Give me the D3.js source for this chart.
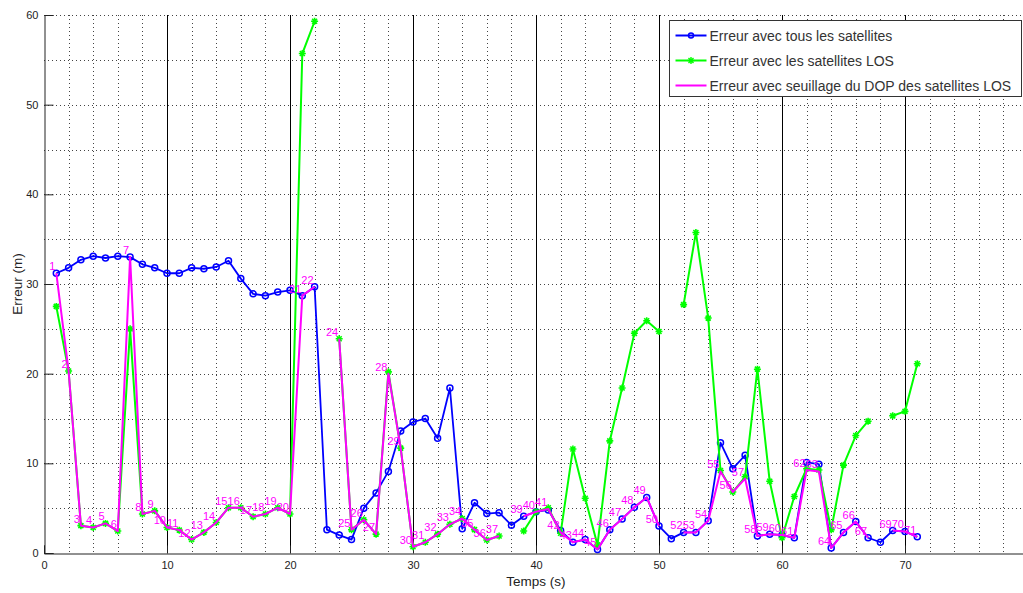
<!DOCTYPE html>
<html>
<head>
<meta charset="utf-8">
<script src="https://cdn.jsdelivr.net/npm/d3@7"></script>
<style>
  body { margin: 0; background: #fff; }
  svg { display: block; font-family: "Liberation Sans", Arial, sans-serif; }
</style>
</head>
<body>
<svg id="chart" width="1023" height="593"></svg>
<script>
// temps (s)
const temps = [1,2,3,4,5,6,7,8,9,10,11,12,13,14,15,16,17,18,19,20,
  21,22,23,24,25,26,27,28,29,30,31,32,33,34,35,36,37,38,39,40,
  41,42,43,44,45,46,47,48,49,50,51,52,53,54,55,56,57,58,59,60,
  61,62,63,64,65,66,67,68,69,70,71];

// erreur avec tous les satellites
const errTous = [31.2,31.8,32.7,33.1,32.9,33.1,33.0,32.2,31.8,31.2,
  31.2,31.8,31.7,31.9,32.6,30.6,28.9,28.7,29.1,29.3,
  28.7,29.7,2.6,2.0,1.5,5.0,6.7,9.1,13.6,14.6,
  15.0,12.8,18.4,2.7,5.6,4.4,4.5,3.1,4.1,4.6,
  4.8,2.5,1.2,1.5,0.4,2.6,3.8,5.1,6.2,3.0,
  1.6,2.3,2.3,3.6,12.3,9.4,10.9,1.9,2.1,2.0,
  1.7,10.1,9.9,0.55,2.3,3.5,1.7,1.2,2.5,2.4,1.8];

// erreur avec les satellites LOS (null = pas de solution)
const errLOS = [27.5,20.3,3.05,2.85,3.3,2.45,25.0,4.35,4.7,2.85,
  2.55,1.5,2.3,3.4,5.05,5.05,4.05,4.35,5.05,4.35,
  55.7,59.3,null,23.9,2.6,3.7,2.1,20.2,11.7,0.7,
  1.2,2.1,3.2,3.85,2.6,1.45,1.9,null,2.45,4.6,
  5.05,2.2,11.6,6.1,0.9,12.5,18.4,24.5,25.9,24.7,
  null,27.7,35.75,26.2,9.2,6.8,8.5,20.5,8.0,1.7,
  6.3,9.4,9.25,2.6,9.8,13.1,14.7,null,15.3,15.8,21.1];

// erreur avec seuillage du DOP des satellites LOS
const errDOP = [31.2,20.3,3.05,2.85,3.3,2.45,33.0,4.35,4.7,2.85,
  2.55,1.5,2.3,3.4,5.05,5.05,4.05,4.35,5.05,4.35,
  28.7,29.7,null,23.9,2.6,3.7,2.1,20.0,11.7,0.7,
  1.2,2.1,3.2,3.85,2.6,1.45,1.9,null,4.1,4.6,
  4.9,2.3,1.2,1.5,0.4,2.6,3.8,5.1,6.2,3.0,
  null,2.3,2.3,3.6,9.1,6.8,8.3,1.9,2.1,2.0,
  1.7,9.25,9.1,0.55,2.3,3.5,1.7,null,2.5,2.4,1.8];

const xTicks = [0,10,20,30,40,50,60,70];
const yTicks = [0,10,20,30,40,50,60];
const legendLabels = [
  "Erreur avec tous les satellites",
  "Erreur avec les satellites LOS",
  "Erreur avec seuillage du DOP des satellites LOS"
];

const svg = d3.select("#chart");
const pl = 44, pr = 1028, pt = 15, pb = 553;

const x = d3.scaleLinear().domain([0, 80]).range([pl, pr]);
const y = d3.scaleLinear().domain([0, 60]).range([pb, pt]);

svg.append("rect").attr("width", 1023).attr("height", 593).attr("fill", "#fff");

// grille mineure pointillée
const grid = svg.append("g");
grid.selectAll("line.gx")
  .data(x.ticks(40).filter(d => d > 0))
  .join("line")
    .attr("x1", d => Math.round(x(d)) + 0.5).attr("x2", d => Math.round(x(d)) + 0.5)
    .attr("y1", pt).attr("y2", pb)
    .attr("stroke", "#444").attr("stroke-width", 1).attr("stroke-dasharray", "1,3");
grid.selectAll("line.gy")
  .data(y.ticks(12).filter(d => d > 0))
  .join("line")
    .attr("y1", d => Math.round(y(d)) + 0.5).attr("y2", d => Math.round(y(d)) + 0.5)
    .attr("x1", pl).attr("x2", pr)
    .attr("stroke", "#444").attr("stroke-width", 1).attr("stroke-dasharray", "1,3");

// lignes verticales toutes les 10 s
svg.append("g").selectAll("line")
  .data(xTicks.filter(d => d > 0))
  .join("line")
    .attr("x1", d => Math.round(x(d)) + 0.5).attr("x2", d => Math.round(x(d)) + 0.5)
    .attr("y1", pt).attr("y2", pb)
    .attr("stroke", "#000").attr("stroke-width", 1);

// axes
const xAxis = svg.append("g")
  .attr("transform", `translate(0,${pb + 0.5})`)
  .call(d3.axisBottom(x).tickValues(xTicks).tickSize(-8).tickPadding(8));
const yAxis = svg.append("g")
  .attr("transform", `translate(${pl + 0.5},0)`)
  .call(d3.axisLeft(y).tickValues(yTicks).tickSize(-9).tickPadding(6));
[xAxis, yAxis].forEach(a => {
  a.select(".domain").attr("stroke", "#222");
  a.selectAll(".tick line").attr("stroke", "#222");
  a.selectAll(".tick text").attr("fill", "#222").style("font-size", "11px")
    .style("font-family", "'Liberation Sans', Arial, sans-serif");
});

svg.append("text")
  .attr("x", (pl + pr) / 2).attr("y", 586)
  .attr("text-anchor", "middle").attr("fill", "#222")
  .style("font-size", "13.5px").text("Temps (s)");
svg.append("text")
  .attr("transform", `translate(22,${(pt + pb) / 2}) rotate(-90)`)
  .attr("text-anchor", "middle").attr("fill", "#222")
  .style("font-size", "13.5px").text("Erreur (m)");

const plot = svg.append("g");

function drawLine(values, color, width) {
  const pts = temps.map((t, i) => ({ t, v: values[i] }));
  const line = d3.line()
    .defined(d => d.v != null)
    .x(d => x(d.t)).y(d => y(d.v));
  plot.append("path")
    .datum(pts)
    .attr("d", line)
    .attr("fill", "none")
    .attr("stroke", color)
    .attr("stroke-width", width)
    .attr("stroke-linejoin", "round");
  return pts.filter(d => d.v != null);
}

const star = "M-3.5,0H3.5M0,-3.5V3.5M-2.5,-2.5L2.5,2.5M-2.5,2.5L2.5,-2.5";

// tous les satellites
const ptsTous = drawLine(errTous, "#0000ff", 1.8);
plot.append("g").selectAll("circle")
  .data(ptsTous)
  .join("circle")
    .attr("cx", d => x(d.t)).attr("cy", d => y(d.v)).attr("r", 3)
    .attr("fill", "none").attr("stroke", "#0000ff").attr("stroke-width", 1.5);

// satellites LOS
const ptsLOS = drawLine(errLOS, "#00ff00", 2);
plot.append("g").selectAll("path")
  .data(ptsLOS)
  .join("path")
    .attr("transform", d => `translate(${x(d.t)},${y(d.v)})`)
    .attr("d", star)
    .attr("stroke", "#00ff00").attr("stroke-width", 1.6).attr("fill", "none");

// seuillage DOP
const ptsDOP = drawLine(errDOP, "#ff00ff", 2);
plot.append("g").selectAll("text")
  .data(ptsDOP)
  .join("text")
    .attr("x", d => x(d.t) - 1).attr("y", d => y(d.v) - 3)
    .attr("text-anchor", "end")
    .attr("fill", "#ff00ff")
    .style("font-size", "11px")
    .text(d => d.t);

// légende
const legend = svg.append("g").attr("transform", "translate(669.5,20.5)");
legend.append("rect")
  .attr("width", 352).attr("height", 76)
  .attr("fill", "#fff").attr("stroke", "#333").attr("stroke-width", 1);
const colors = ["#0000ff", "#00ff00", "#ff00ff"];
legendLabels.forEach((label, i) => {
  const ly = 15 + i * 25;
  legend.append("line")
    .attr("x1", 6).attr("x2", 37).attr("y1", ly).attr("y2", ly)
    .attr("stroke", colors[i]).attr("stroke-width", 2);
  if (i === 0) {
    legend.append("circle").attr("cx", 21.5).attr("cy", ly).attr("r", 2.5)
      .attr("fill", "none").attr("stroke", colors[i]).attr("stroke-width", 1.5);
  } else if (i === 1) {
    legend.append("path").attr("transform", `translate(21.5,${ly})`).attr("d", star)
      .attr("stroke", colors[i]).attr("stroke-width", 1.4).attr("fill", "none");
  }
  legend.append("text")
    .attr("x", 40).attr("y", ly + 5)
    .attr("fill", "#333")
    .style("font-size", "14px")
    .text(label);
});
</script>
</body>
</html>
